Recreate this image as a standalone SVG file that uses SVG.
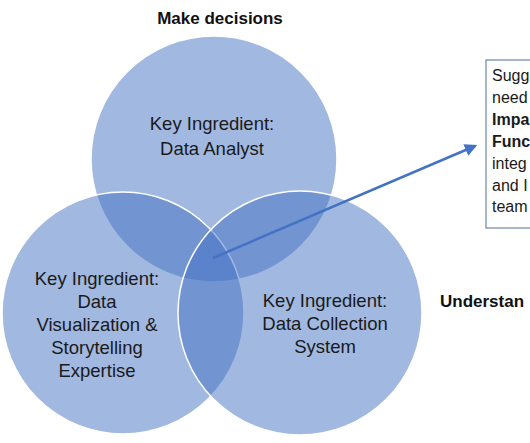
<svg xmlns="http://www.w3.org/2000/svg" width="530" height="443" viewBox="0 0 530 443">
<defs>
<style>
.c{fill:#4472C4;fill-opacity:0.5;stroke:#ffffff;stroke-width:1.5}
.t{font-family:"Liberation Sans",Arial,sans-serif;font-size:18.5px;fill:#1a1a1a;text-anchor:middle}
.h{font-family:"Liberation Sans",Arial,sans-serif;font-size:17px;font-weight:bold;fill:#111}
.b{font-family:"Liberation Sans",Arial,sans-serif;font-size:16px;fill:#1a1a1a}
.bb{font-weight:bold}
</style>
<marker id="ah" viewBox="0 0 10 10" refX="8" refY="5" markerWidth="5" markerHeight="5" orient="auto" markerUnits="strokeWidth">
<path d="M0,0 L10,5 L0,10 z" fill="#4472C4"/>
</marker>
</defs>
<rect width="530" height="443" fill="#ffffff"/>
<text class="h" x="220" y="24" text-anchor="middle">Make decisions</text>
<text class="h" x="440" y="307">Understan</text>
<g id="top-circle">
<circle class="c" cx="214" cy="159" r="123"/>
</g>
<g id="left-circle">
<circle class="c" cx="123" cy="313" r="121"/>
</g>
<g id="right-circle">
<circle class="c" cx="300" cy="313" r="122"/>
</g>
<g id="labels">
<text class="t" x="212" y="130">Key Ingredient:</text>
<text class="t" x="212" y="155">Data Analyst</text>
<text class="t" x="97" y="285">Key Ingredient:</text>
<text class="t" x="97" y="308">Data</text>
<text class="t" x="97" y="331">Visualization &amp;</text>
<text class="t" x="97" y="354">Storytelling</text>
<text class="t" x="97" y="377">Expertise</text>
<text class="t" x="325" y="307">Key Ingredient:</text>
<text class="t" x="325" y="330">Data Collection</text>
<text class="t" x="325" y="353">System</text>
</g>
<g id="note">
<rect x="486" y="60" width="50" height="168" fill="#ffffff" stroke="#4a6c9b" stroke-width="1"/>
<text class="b" x="492" y="81">Sugg</text>
<text class="b" x="492" y="103">need</text>
<text class="b bb" x="492" y="125">Impa</text>
<text class="b bb" x="492" y="147">Func</text>
<text class="b" x="492" y="169">integ</text>
<text class="b" x="492" y="191">and I</text>
<text class="b" x="492" y="212">team</text>
</g>
<g id="connectors">
<line x1="213" y1="258" x2="475" y2="146" stroke="#4472C4" stroke-width="2.5" marker-end="url(#ah)"/>
</g>
</svg>
